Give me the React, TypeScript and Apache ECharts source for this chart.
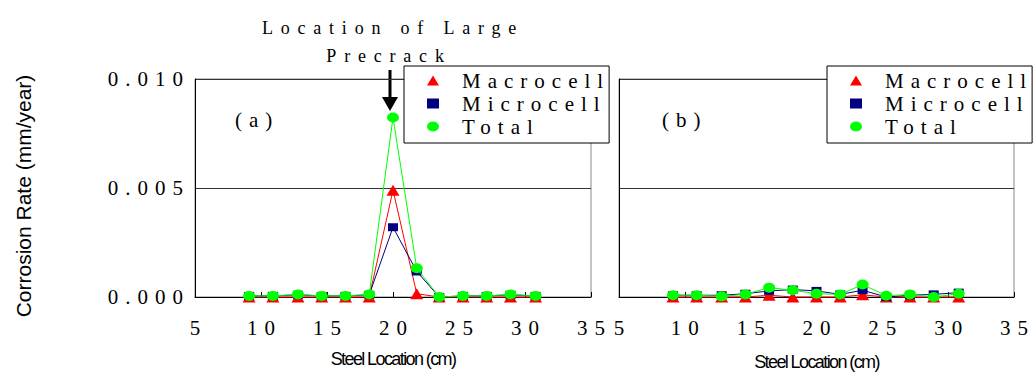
import React, { useEffect, useRef } from "react";
import * as echarts from "echarts";

// Steel positions (cm) along the specimen
const steelLocations = [9.1, 10.9, 12.8, 14.6, 16.4, 18.2, 20.0, 21.8, 23.5, 25.3, 27.1, 28.9, 30.8];

// (a) specimen with large precrack at 20 cm
const macrocellA = [0, 0, 0, 0, 0, 0, 0.0049, 0.00015, 0, 0, 0, 0, 0];
const microcellA = [0.00005, 0.00005, 0.0001, 0.00005, 0.00005, 0.0001, 0.0032, 0.00117, 0, 0.00005, 0.00005, 0.0001, 0.00005];
const totalA = [0.00005, 0.00005, 0.00012, 0.00005, 0.00005, 0.00012, 0.00823, 0.00132, 0, 0.00005, 0.00005, 0.00012, 0.00005];

// (b)
const macrocellB = [0, 0, 0, 0, 0.00008, 0, 0, 0, 0.0001, 0, 0, 0, 0];
const microcellB = [0.00008, 0.00008, 0.00008, 0.00015, 0.00028, 0.00034, 0.00028, 0.00012, 0.00031, 0, 0.00008, 0.00012, 0.0002];
const totalB = [0.00008, 0.00008, 0.00003, 0.00012, 0.00043, 0.00031, 0.00015, 0.00012, 0.00057, 0.00006, 0.00012, 0, 0.00015];

const seriesNames = ["Macrocell", "Microcell", "Total"];
const panelLabels = ["(a)", "(b)"];
const xRange = [5, 35];
const xStep = 5;
const yRange = [0, 0.01];
const yStep = 0.005;

const SERIF = "'Liberation Serif', serif";
const NOTE_SERIF = "'Times New Roman'";
const SANS = "'Liberation Sans'";
const ELLIPSE = "path://M0,5A6,5,0,1,1,12,5A6,5,0,1,1,0,5Z";

const css = `
.chart text { letter-spacing: 7px; }
.chart text[style*="Times"], .chart text[font-family*="Times"] { letter-spacing: 7.8px; }
.chart text[style*="Sans"], .chart text[font-family*="Sans"] { letter-spacing: -1.6px; }
.chart text[style*="Arial"], .chart text[font-family*="Arial"] { letter-spacing: 0px; }
`;

function mkSeries(name: string, vals: number[], idx: number, color: string, symbol: string, size: number[], z: number) {
  return {
    type: "line",
    name,
    xAxisIndex: idx,
    yAxisIndex: idx,
    data: steelLocations.map((x, i) => [x, vals[i]]),
    symbol,
    symbolSize: size,
    showAllSymbol: true,
    clip: false,
    z,
    lineStyle: { color, width: 1 },
    itemStyle: { color },
  };
}

function xAxisCfg(idx: number, nameGap: number) {
  return {
    type: "value",
    gridIndex: idx,
    min: xRange[0],
    max: xRange[1],
    interval: xStep,
    name: "Steel Location (cm)",
    nameLocation: "middle",
    nameGap,
    nameTextStyle: { fontFamily: SANS, fontSize: 18, color: "#000" },
    axisLine: { show: true, onZero: false, lineStyle: { color: "#000", width: 1 } },
    axisTick: { show: true, inside: true, length: 5, lineStyle: { color: "#000" } },
    axisLabel: { fontFamily: SERIF, fontSize: 21, color: "#000", margin: 20, padding: [0, 0, 0, 7] },
    splitLine: { show: false },
  };
}

function yAxisCfg(idx: number) {
  return {
    type: "value",
    gridIndex: idx,
    min: yRange[0],
    max: yRange[1],
    interval: yStep,
    axisLine: { show: true, lineStyle: { color: "#000", width: 1 } },
    axisTick: { show: false },
    axisLabel: {
      show: idx === 0,
      fontFamily: SERIF,
      fontSize: 21,
      color: "#000",
      margin: 5,
      formatter: (v: number) => v.toFixed(3),
    },
    splitLine: { show: true, lineStyle: { color: "#333", width: 1 } },
  };
}

function legendCfg(left: number) {
  return {
    orient: "vertical",
    left,
    top: 66,
    itemWidth: 12,
    itemHeight: 10,
    itemGap: 2,
    padding: [4, 62, 6, 23],
    borderColor: "#000",
    borderWidth: 1,
    backgroundColor: "#fff",
    z: 10,
    data: [
      { name: seriesNames[0], icon: "triangle" },
      { name: seriesNames[1], icon: "rect" },
      { name: seriesNames[2], icon: ELLIPSE },
    ],
    textStyle: { fontFamily: SERIF, fontSize: 21, color: "#000", padding: [0, 0, 0, 18] },
  };
}

const gridBase = {
  top: 79,
  height: 218,
  show: true,
  borderColor: "#888",
  borderWidth: 1,
  backgroundColor: "transparent",
  containLabel: false,
  outerBoundsMode: "none",
};

const option = {
  animation: false,
  backgroundColor: "#fff",
  grid: [
    { ...gridBase, left: 195, width: 396 },
    { ...gridBase, left: 619, width: 395 },
  ],
  xAxis: [xAxisCfg(0, 53), xAxisCfg(1, 56)],
  yAxis: [yAxisCfg(0), yAxisCfg(1)],
  legend: [legendCfg(404), legendCfg(827)],
  series: [
    mkSeries(seriesNames[0], macrocellA, 0, "#ff0000", "triangle", [13, 11], 2),
    mkSeries(seriesNames[1], microcellA, 0, "#000080", "rect", [10, 8], 3),
    mkSeries(seriesNames[2], totalA, 0, "#00ff00", ELLIPSE, [12, 10], 4),
    mkSeries(seriesNames[0], macrocellB, 1, "#ff0000", "triangle", [13, 11], 2),
    mkSeries(seriesNames[1], microcellB, 1, "#000080", "rect", [10, 8], 3),
    mkSeries(seriesNames[2], totalB, 1, "#00ff00", ELLIPSE, [12, 10], 4),
  ],
  graphic: [
    {
      type: "text",
      x: 23,
      y: 196,
      rotation: Math.PI / 2,
      style: { text: "Corrosion Rate (mm/year)", font: "21px Arial", fill: "#000", align: "center", verticalAlign: "middle" },
    },
    {
      type: "text",
      x: 393,
      y: 28,
      style: { text: "Location of Large", font: `18px ${NOTE_SERIF}`, fill: "#000", align: "center", verticalAlign: "middle" },
    },
    {
      type: "text",
      x: 389,
      y: 56,
      style: { text: "Precrack", font: `18px ${NOTE_SERIF}`, fill: "#000", align: "center", verticalAlign: "middle" },
    },
    {
      type: "line",
      shape: { x1: 390, y1: 70, x2: 390, y2: 100 },
      style: { stroke: "#000", lineWidth: 3 },
    },
    {
      type: "polygon",
      shape: { points: [[382, 97], [398, 97], [390, 111]] },
      style: { fill: "#000" },
    },
    {
      type: "text",
      x: 235,
      y: 120,
      style: { text: panelLabels[0], font: `21px ${SERIF}`, fill: "#000", align: "left", verticalAlign: "middle" },
    },
    {
      type: "text",
      x: 662,
      y: 120,
      style: { text: panelLabels[1], font: `21px ${SERIF}`, fill: "#000", align: "left", verticalAlign: "middle" },
    },
  ],
};

export default function App() {
  const ref = useRef<HTMLDivElement>(null);
  useEffect(() => {
    document.body.style.margin = "0";
    const chart = echarts.init(ref.current as HTMLDivElement, null, { renderer: "svg" });
    chart.setOption(option as any);
    return () => chart.dispose();
  }, []);
  return (
    <>
      <style>{css}</style>
      <div ref={ref} className="chart" style={{ width: 1035, height: 374 }} />
    </>
  );
}
